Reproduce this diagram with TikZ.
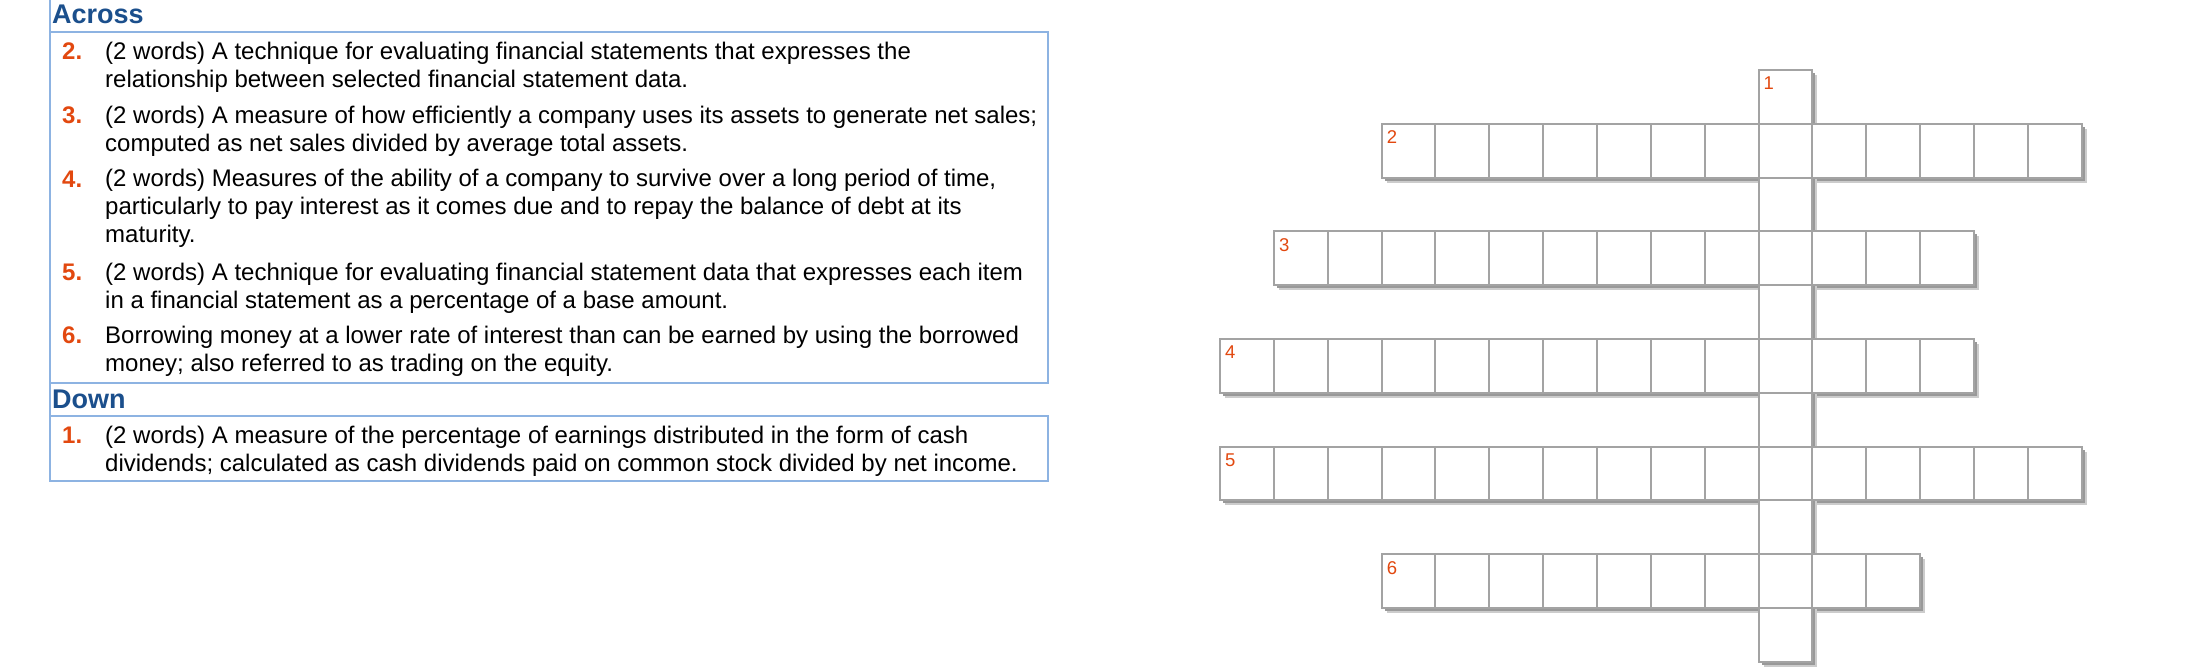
\documentclass[tikz,border=0pt]{standalone}
\usepackage{fontspec}
\setmainfont{Liberation Sans}
\usetikzlibrary{calc, positioning}
\definecolor{cluebox}{HTML}{8DB3E2}
\definecolor{headblue}{HTML}{1B4F8C}
\definecolor{numred}{HTML}{E2480F}
\definecolor{cellline}{HTML}{A3A3A3}
\tikzset{
    cell/.style={draw=cellline, line width=2pt, fill=white, anchor=north west,
        minimum width=53.85pt, minimum height=53.8pt, inner sep=0pt, outer sep=0pt},
    shade/.style={fill=black!#1, draw=none},
    num/.style={anchor=north west, inner sep=0pt, text=numred,
        font=\fontsize{18.5}{18.5}\selectfont, xshift=5pt, yshift=-7pt},
    head/.style={anchor=base west, inner sep=0pt, text=headblue,
        font=\fontsize{27}{27}\selectfont\bfseries},
    itemno/.style={anchor=base west, inner sep=0pt, text=numred,
        font=\fontsize{24}{27.7}\selectfont\bfseries},
    clue/.style={anchor=base west, inner sep=0pt, align=left,
        font=\fontsize{24}{27.7}\selectfont}
}

\begin{document}
\begin{tikzpicture}[x=1pt, y=-1pt]
      \useasboundingbox (0,0) rectangle (2200,667);

      % clue panel
      \draw[cluebox, line width=2pt] (50,0) -- (50,481);
      \draw[cluebox, line width=2pt] (50,31.7) rectangle (1048.3,382.7);
      \draw[cluebox, line width=2pt] (50,416) rectangle (1048.3,480.7);

      % clue texts sit on the baseline of their last line
      \node[head] (across) at (52,23.3) {Across};
      \node[itemno] (no2) at (62,59.3) {2.};
      \node[clue] (clue2) at (105,87.3) {(2 words) A technique for evaluating financial statements that expresses the\\
        relationship between selected financial statement data.};
      \node[itemno] (no3) at (62,123.3) {3.};
      \node[clue] (clue3) at (105,151.3) {(2 words) A measure of how efficiently a company uses its assets to generate net sales;\\
        computed as net sales divided by average total assets.};
      \node[itemno] (no4) at (62,187.3) {4.};
      \node[clue] (clue4) at (105,242.3) {(2 words) Measures of the ability of a company to survive over a long period of time,\\
        particularly to pay interest as it comes due and to repay the balance of debt at its\\
        maturity.};
      \node[itemno] (no5) at (62,280.3) {5.};
      \node[clue] (clue5) at (105,308.3) {(2 words) A technique for evaluating financial statement data that expresses each item\\
        in a financial statement as a percentage of a base amount.};
      \node[itemno] (no6) at (62,343.3) {6.};
      \node[clue] (clue6) at (105,371) {Borrowing money at a lower rate of interest than can be earned by using the borrowed\\
        money; also referred to as trading on the equity.};

      \node[head] (down) at (52,408) {Down};
      \node[itemno] (no1) at (62,443.3) {1.};
      \node[clue] (clue1) at (105,471) {(2 words) A measure of the percentage of earnings distributed in the form of cash\\
        dividends; calculated as cash dividends paid on common stock divided by net income.};

      % grid: all shadows first, then the cells on top
      \foreach \w/\c/\r/\nc/\nr in {a2/3/1/13/1, a3/1/3/13/1, a4/0/5/14/1,
          a5/0/7/16/1, a6/3/9/10/1, d1/10/0/1/11} {
        \fill[shade=20] ({1220+\c*53.85+5}, {70+\r*53.8+5}) rectangle ++({\nc*53.85}, {\nr*53.8});
        \fill[shade=40] ({1220+\c*53.85+3}, {70+\r*53.8+3}) rectangle ++({\nc*53.85}, {\nr*53.8});
      }
      \foreach \w/\c/\r/\nc/\nr in {a2/3/1/13/1, a3/1/3/13/1, a4/0/5/14/1,
          a5/0/7/16/1, a6/3/9/10/1, d1/10/0/1/11}
        \foreach \i in {1,...,\nc}
          \foreach \j in {1,...,\nr} {
            \pgfmathtruncatemacro\k{\i+\j-1}
            \node[cell] (\w-\k) at ({1220+(\c+\i-1)*53.85}, {70+(\r+\j-1)*53.8}) {};
          }

      \node[num] (n1) at (d1-1.north west) {1};
      \node[num] (n2) at (a2-1.north west) {2};
      \node[num] (n3) at (a3-1.north west) {3};
      \node[num] (n4) at (a4-1.north west) {4};
      \node[num] (n5) at (a5-1.north west) {5};
      \node[num] (n6) at (a6-1.north west) {6};
\end{tikzpicture}
\end{document}
